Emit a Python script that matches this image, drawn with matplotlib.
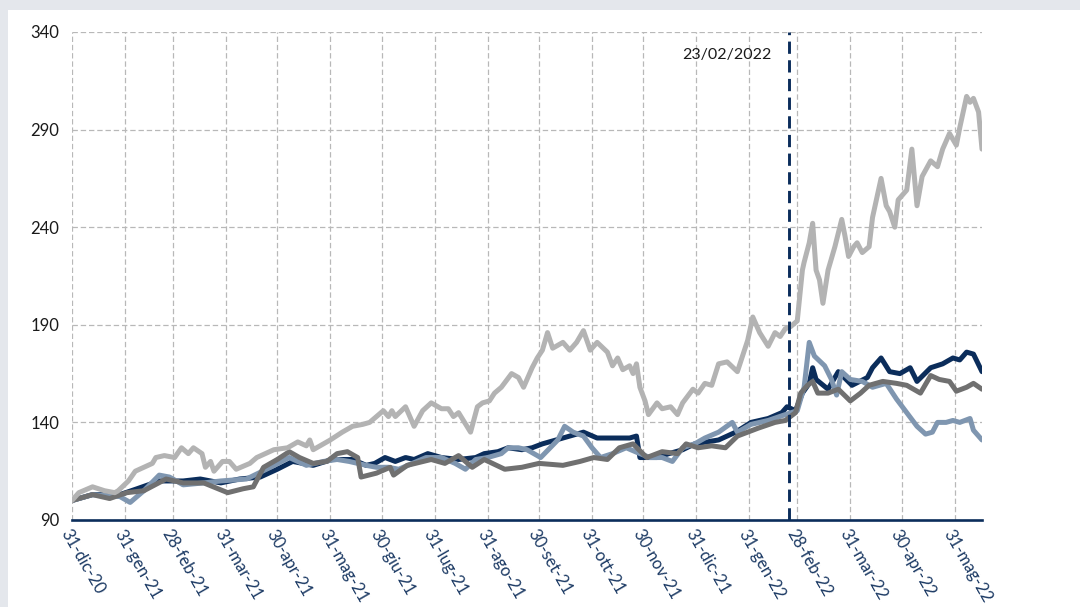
import matplotlib
matplotlib.use("Agg")
import matplotlib.pyplot as plt
import matplotlib.patches as mpatches
import pandas as pd

plt.rcParams['font.family'] = ['Lato', 'DejaVu Sans']

start = pd.Timestamp('2020-12-31')

# days counted from 31-dic-20
nv_day = [0, 12, 28, 38, 51, 65, 75, 87, 98, 110,
          120, 129, 141, 152, 164, 172, 177, 183, 189, 195,
          200, 208, 216, 226, 236, 241, 249, 255, 263, 269,
          275, 283, 291, 299, 307, 316, 326, 330, 332, 342,
          349, 357, 364, 378, 388, 397, 407, 415, 418, 423,
          427, 431, 433, 435, 442, 448, 456, 465, 468, 473,
          478, 484, 490, 494, 502, 509, 515, 519, 523, 527, 532]
nv_val = [100, 103, 103, 106, 110, 110, 111, 109, 111, 112,
          116, 120, 118, 121, 121, 118, 119, 122, 120, 122,
          121, 124, 122, 121, 122, 124, 125, 127, 126, 127,
          129, 131, 133, 135, 132, 132, 132, 133, 122, 122,
          124, 126, 129, 131, 135, 140, 142, 145, 148, 146,
          155, 160, 168, 162, 157, 166, 159, 163, 168, 173,
          166, 165, 168, 161, 168, 170, 173, 172, 176, 175, 166]

sb_day = [0, 12, 28, 34, 42, 51, 57, 65, 77, 87,
          102, 116, 127, 137, 147, 155, 162, 172, 178, 185,
          191, 199, 207, 216, 224, 230, 236, 243, 251, 255,
          261, 266, 274, 284, 288, 293, 299, 304, 309, 316,
          324, 332, 338, 345, 351, 357, 364, 370, 378, 386,
          389, 397, 407, 417, 424, 428, 431, 434, 440, 444,
          447, 450, 455, 462, 468, 476, 482, 488, 494, 499,
          503, 506, 511, 515, 519, 525, 527, 532]
sb_val = [100, 103, 102, 99, 105, 113, 112, 108, 109, 110,
          111, 117, 122, 118, 120, 121, 120, 118, 117, 117,
          116, 119, 122, 122, 119, 116, 121, 122, 124, 127,
          127, 126, 122, 131, 138, 135, 133, 127, 122, 124,
          127, 124, 122, 122, 120, 127, 129, 132, 135, 140,
          135, 139, 141, 144, 146, 158, 181, 174, 169, 162,
          154, 166, 162, 161, 158, 160, 152, 145, 138, 134,
          135, 140, 140, 141, 140, 142, 136, 131]

dg_day = [0, 12, 22, 32, 42, 55, 65, 77, 91, 100,
          106, 112, 120, 127, 133, 141, 149, 155, 161, 167,
          169, 178, 186, 188, 196, 210, 218, 226, 234, 241,
          253, 263, 273, 287, 297, 305, 313, 320, 328, 336,
          345, 354, 359, 366, 374, 382, 389, 401, 411, 417,
          423, 426, 430, 433, 436, 442, 448, 455, 461, 466,
          474, 482, 488, 496, 502, 507, 513, 517, 523, 527, 532]
dg_val = [100, 103, 101, 104, 105, 111, 109, 109, 104, 106,
          107, 117, 121, 125, 122, 119, 120, 124, 125, 122,
          112, 114, 117, 113, 118, 121, 119, 123, 117, 121,
          116, 117, 119, 118, 120, 122, 121, 127, 129, 122,
          125, 124, 129, 127, 128, 127, 133, 137, 140, 141,
          145, 155, 159, 161, 155, 155, 157, 151, 155, 159,
          161, 160, 159, 155, 164, 162, 161, 156, 158, 160, 157]

lg_day = [0, 4, 12, 19, 25, 27, 33, 37, 47, 49,
          54, 60, 64, 68, 71, 76, 78, 81, 83, 88,
          92, 96, 104, 108, 118, 126, 132, 137, 139, 141,
          151, 158, 164, 170, 174, 182, 185, 187, 189, 195,
          200, 205, 210, 216, 220, 223, 226, 233, 237, 240,
          244, 247, 251, 257, 261, 264, 269, 272, 275, 278,
          281, 287, 291, 295, 299, 303, 307, 313, 316, 319,
          322, 326, 328, 330, 332, 335, 337, 342, 345, 350,
          354, 357, 363, 366, 370, 374, 378, 383, 389, 395,
          398, 402, 407, 411, 414, 417, 420, 424, 427, 428,
          431, 433, 435, 437, 439, 442, 446, 450, 452, 454,
          457, 459, 462, 466, 468, 473, 476, 478, 481, 483,
          488, 491, 494, 497, 502, 506, 509, 513, 517, 519,
          523, 525, 527, 530, 532]
lg_val = [100, 104, 107, 105, 104, 105, 110, 115, 119, 122,
          123, 122, 127, 124, 127, 124, 117, 120, 115, 120,
          120, 116, 119, 122, 126, 127, 130, 128, 131, 126,
          131, 135, 138, 139, 140, 146, 143, 146, 143, 148,
          138, 146, 150, 147, 147, 143, 145, 135, 148, 150,
          151, 155, 158, 165, 163, 158, 168, 173, 177, 186,
          178, 181, 177, 181, 187, 177, 181, 176, 169, 173,
          167, 169, 165, 170, 158, 151, 144, 150, 147, 148,
          144, 150, 157, 155, 160, 159, 170, 171, 166, 182,
          194, 186, 179, 186, 184, 188, 189, 192, 218, 222,
          232, 242, 218, 213, 201, 218, 230, 244, 235, 225,
          230, 232, 227, 230, 245, 265, 251, 248, 240, 254,
          259, 280, 251, 266, 274, 271, 280, 288, 282, 291,
          307, 304, 306, 299, 280]

tick_dates = ['2020-12-31', '2021-01-31', '2021-02-28', '2021-03-31', '2021-04-30',
              '2021-05-31', '2021-06-30', '2021-07-31', '2021-08-31', '2021-09-30',
              '2021-10-31', '2021-11-30', '2021-12-31', '2022-01-31', '2022-02-28',
              '2022-03-31', '2022-04-30', '2022-05-31']
tick_labels = ['31-dic-20', '31-gen-21', '28-feb-21', '31-mar-21', '30-apr-21',
               '31-mag-21', '30-giu-21', '31-lug-21', '31-ago-21', '30-set-21',
               '31-ott-21', '30-nov-21', '31-dic-21', '31-gen-22', '28-feb-22',
               '31-mar-22', '30-apr-22', '31-mag-22']

event_date = pd.Timestamp('2022-02-23')
navy = '#0b2d5b'


def to_dates(days):
    return start + pd.to_timedelta(days, unit='D')


fig = plt.figure(figsize=(10.8, 6.07), dpi=100)
fig.patch.set_facecolor('#e4e7ec')
fig.add_artist(mpatches.Rectangle((8 / 1080, 0), 1, 1 - 10 / 607,
                                  transform=fig.transFigure,
                                  facecolor='white', edgecolor='none', zorder=-5))

ax = fig.add_axes([72 / 1080, 1 - 520 / 607, 910 / 1080, 488 / 607])

line_kw = dict(lw=3.6, zorder=3, solid_joinstyle='round', solid_capstyle='round')
ax.plot(to_dates(nv_day), nv_val, color=navy, **line_kw)
ax.plot(to_dates(sb_day), sb_val, color='#7f96b0', **line_kw)
ax.plot(to_dates(dg_day), dg_val, color='#707070', **line_kw)
ax.plot(to_dates(lg_day), lg_val, color='#b3b3b3', **line_kw)

ax.axvline(event_date, color=navy, lw=2.1, linestyle=(0, (4.2, 2.2)), zorder=5)
ax.text(event_date - pd.Timedelta(days=10), 328, '23/02/2022',
        ha='right', va='center', fontsize=11.5, color='#1a1a1a')

ax.set_ylim(90, 340)
ax.set_yticks([90, 140, 190, 240, 290, 340])
ax.set_xlim(start, to_dates([532])[0])
ax.set_xticks(pd.to_datetime(tick_dates))
ax.set_xticklabels(tick_labels, rotation=-60, ha='left', va='top',
                   rotation_mode='anchor', color='#1c3a64', fontsize=12)
ax.tick_params(axis='y', length=0, pad=9, labelsize=12, labelcolor='#1a1a1a')
ax.tick_params(axis='x', length=0, pad=5)

ax.grid(True, color='#b8b8b8', lw=0.9, linestyle=(0, (4.3, 2.3)), zorder=0)
ax.set_axisbelow(True)
for side in ['top', 'right', 'left']:
    ax.spines[side].set_visible(False)
ax.spines['bottom'].set_color(navy)
ax.spines['bottom'].set_linewidth(1.9)

plt.savefig('out.png', dpi=100)
